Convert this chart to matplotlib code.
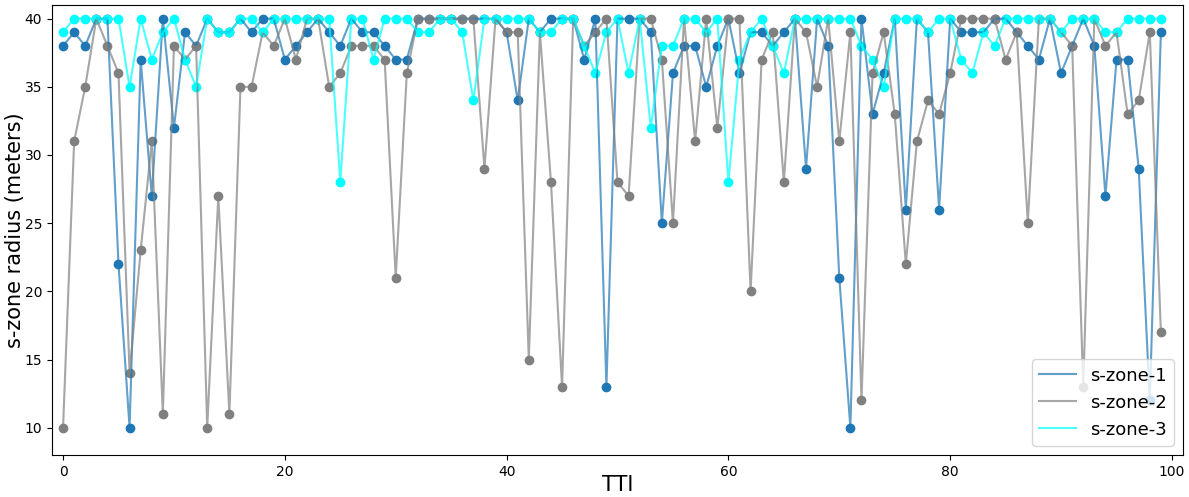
import numpy as np
import matplotlib
matplotlib.use("Agg")
import matplotlib.pyplot as plt

tti = list(range(100))

szone1 = [38, 39, 38, 40, 40, 22, 10, 37, 27, 40,
          32, 39, 38, 40, 39, 39, 40, 39, 40, 40,
          37, 38, 39, 40, 39, 38, 40, 39, 39, 38,
          37, 37, 40, 40, 40, 40, 40, 40, 40, 40,
          39, 34, 40, 39, 40, 40, 40, 37, 40, 13,
          40, 40, 40, 39, 25, 36, 38, 38, 35, 38,
          40, 36, 39, 39, 38, 39, 40, 29, 40, 38,
          21, 10, 40, 33, 36, 40, 26, 40, 39, 26,
          40, 39, 39, 39, 40, 40, 39, 38, 37, 40,
          36, 38, 40, 38, 27, 37, 37, 29, 12, 39]

szone2 = [10, 31, 35, 40, 38, 36, 14, 23, 31, 11,
          38, 37, 38, 10, 27, 11, 35, 35, 39, 38,
          40, 37, 40, 40, 35, 36, 38, 38, 38, 37,
          21, 36, 40, 40, 40, 40, 40, 40, 29, 40,
          39, 39, 15, 39, 28, 13, 40, 38, 39, 40,
          28, 27, 40, 40, 37, 25, 40, 31, 40, 32,
          40, 40, 20, 37, 39, 28, 40, 39, 35, 40,
          31, 39, 12, 36, 39, 33, 22, 31, 34, 33,
          36, 40, 40, 40, 40, 37, 39, 25, 40, 40,
          39, 38, 13, 40, 38, 39, 33, 34, 39, 17]

szone3 = [39, 40, 40, 40, 40, 40, 35, 40, 37, 39,
          40, 37, 35, 40, 39, 39, 40, 40, 39, 40,
          40, 40, 40, 40, 40, 28, 40, 40, 37, 40,
          40, 40, 39, 39, 40, 40, 39, 34, 40, 40,
          40, 40, 40, 39, 39, 40, 40, 38, 36, 39,
          40, 36, 40, 32, 38, 38, 40, 40, 39, 40,
          28, 37, 39, 40, 38, 36, 40, 40, 40, 40,
          40, 40, 38, 37, 35, 40, 40, 40, 39, 40,
          40, 37, 36, 39, 38, 40, 40, 40, 40, 40,
          39, 40, 40, 40, 39, 39, 40, 40, 40, 40]

fig = plt.figure(figsize=(11.89, 4.97), dpi=100)
ax = fig.add_axes([0.0437, 0.0845, 0.9513, 0.9055])

ax.plot(tti, szone1, color='tab:blue', alpha=0.7, label='s-zone-1')
ax.scatter(tti, szone1, color='tab:blue')
ax.plot(tti, szone2, color='gray', alpha=0.7, label='s-zone-2')
ax.scatter(tti, szone2, color='gray')
ax.plot(tti, szone3, color='cyan', alpha=0.7, label='s-zone-3')
ax.scatter(tti, szone3, color='cyan')

ax.set_xlim(-1, 101)
ax.set_ylim(8, 41)
ax.set_xlabel('TTI', fontsize=15, labelpad=-3)
ax.set_ylabel('s-zone radius (meters)', fontsize=15, labelpad=0)
ax.legend(loc='lower right', fontsize=13)

fig.savefig('out.png', dpi=100)
